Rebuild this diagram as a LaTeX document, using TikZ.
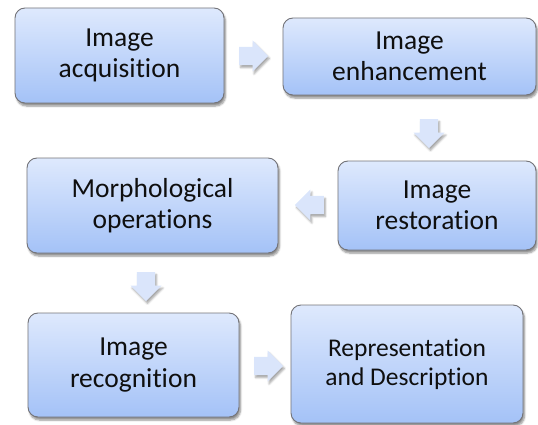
\documentclass[tikz,border=0pt]{standalone}
\usepackage{fontspec}
\setmainfont[Ligatures=NoCommon]{Carlito}
\usetikzlibrary{shapes.arrows,shadows.blur}
\definecolor{boxtop}{RGB}{222,233,253}
\definecolor{boxbot}{RGB}{164,194,247}
\definecolor{boxline}{RGB}{115,115,120}
\definecolor{arrowfill}{RGB}{218,229,251}
\definecolor{txt}{RGB}{15,15,15}
\tikzset{
  stagebox/.style={draw=boxline, line width=0.9pt, rounded corners=10pt,
    top color=boxtop, bottom color=boxbot, align=center, text=txt,
    font=\fontsize{27.5}{31.5}\selectfont, inner sep=0pt,
    blur shadow={shadow xshift=1.5pt, shadow yshift=-3pt, shadow opacity=45, shadow blur steps=6}},
  flowarrow/.style={single arrow, fill=arrowfill, draw=none, minimum height=29pt,
    minimum width=31pt, inner sep=8.5pt, single arrow head extend=6pt,
    blur shadow={shadow xshift=1.5pt, shadow yshift=-2.5pt, shadow opacity=35, shadow blur steps=5}}
}
\begin{document}
\begin{tikzpicture}[x=1pt,y=-1pt]
\useasboundingbox (0,0) rectangle (538,425);
\node[stagebox, minimum width=209pt, minimum height=95pt] (b1) at (119.5,55.5) {Image\\acquisition};
\node[stagebox, minimum width=253pt, minimum height=77pt] (b2) at (409.5,56.5) {Image\\enhancement};
\node[stagebox, minimum width=198pt, minimum height=89pt] (b3) at (437,205.5) {Image\\restoration};
\node[stagebox, minimum width=251pt, minimum height=95pt] (b4) at (152.5,205.5) {Morphological\\operations};
\node[stagebox, minimum width=211pt, minimum height=104pt] (b5) at (133.5,365) {Image\\recognition};
\node[stagebox, minimum width=232pt, minimum height=118pt, font=\fontsize{25.5}{29}\selectfont] (b6) at (407,364) {Representation\\and Description};
\node[flowarrow] (a1) at (249,56) {};
\node[flowarrow, shape border rotate=270] (a2) at (429,129) {};
\node[flowarrow, shape border rotate=180] (a3) at (314,205) {};
\node[flowarrow, shape border rotate=270] (a4) at (146,282) {};
\node[flowarrow] (a5) at (264,366) {};
\end{tikzpicture}
\end{document}
